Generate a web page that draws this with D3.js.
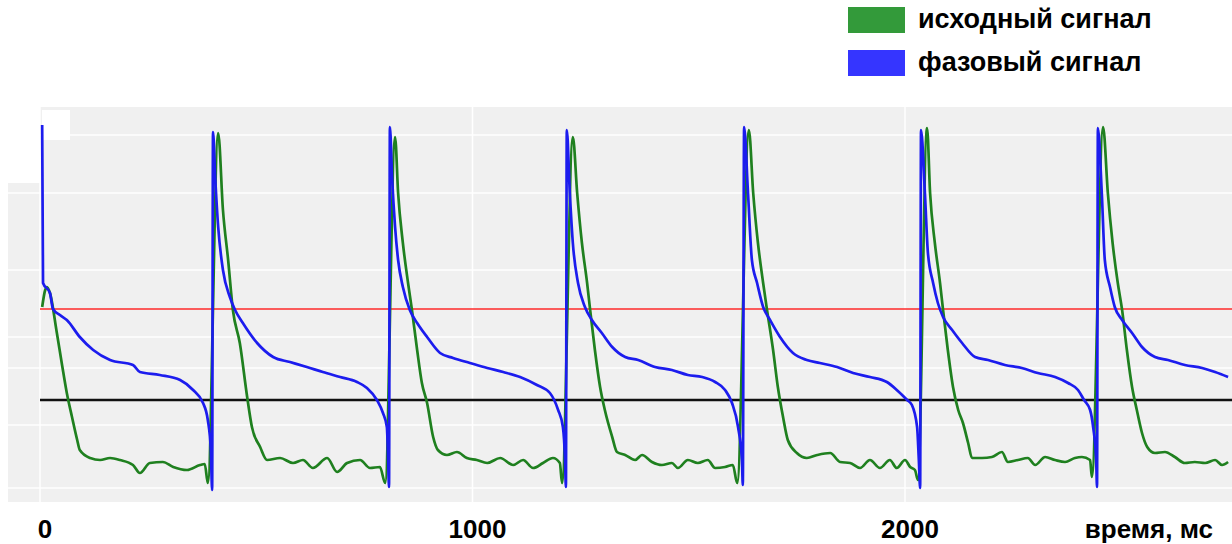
<!DOCTYPE html>
<html>
<head>
<meta charset="utf-8">
<script src="https://cdn.jsdelivr.net/npm/d3@7"></script>
<style>
  body { margin: 0; background: #fff; }
  svg { display: block; font-family: "Liberation Sans", Arial, sans-serif; }
</style>
</head>
<body>
<script>
// time in ms, amplitude in arbitrary units
const rawSignal = [ // исходный сигнал
  [5,193],[12,210],[16,213],[23,207],[39,167],[51,135],[62,107],[74,83],[86,60],[92,50],[116,42],[139,40],[162,42],[185,40],[215,35],[231,27],[254,37],[284,38],[308,33],[340,30],[370,35],[381,36],[388,17],
  [412,367],[423,290],[435,240],[446,190],[462,157],[479,103],[490,73],[509,53],[525,40],[555,42],[585,37],[608,40],[631,32],[664,42],[687,28],[710,37],[740,40],[763,32],[786,33],[798,17],
  [821,363],[828,307],[839,257],[851,217],[860,190],[872,150],[883,117],[895,97],[909,63],[920,50],[941,45],[964,48],[987,42],[1010,40],[1034,37],[1064,42],[1094,35],[1117,40],[1140,32],[1163,37],[1186,42],[1202,37],[1207,17],
  [1232,363],[1242,307],[1253,257],[1265,217],[1272,190],[1283,150],[1295,113],[1306,90],[1323,63],[1334,48],[1353,45],[1376,40],[1392,45],[1415,38],[1438,35],[1461,37],[1475,32],[1498,40],[1521,37],[1544,40],[1561,32],[1584,33],[1602,35],[1612,17],
  [1639,370],[1649,307],[1660,257],[1672,217],[1681,190],[1695,150],[1706,113],[1718,83],[1729,60],[1750,47],[1773,42],[1797,45],[1827,47],[1850,38],[1873,37],[1896,32],[1919,40],[1942,32],[1965,40],[1981,32],[2000,40],[2012,33],[2023,30],[2030,20],
  [2051,372],[2058,307],[2069,257],[2081,217],[2088,190],[2099,150],[2111,113],[2123,90],[2134,77],[2146,57],[2155,42],[2178,42],[2201,43],[2224,48],[2238,38],[2261,40],[2284,42],[2301,35],[2324,43],[2347,40],[2370,38],[2393,42],[2409,43],[2428,40],[2432,23],
  [2458,373],[2469,307],[2480,257],[2492,217],[2502,190],[2513,150],[2525,113],[2536,90],[2548,67],[2560,53],[2578,47],[2601,48],[2624,43],[2647,37],[2670,38],[2694,37],[2717,40],[2733,35],[2747,38]
];

const phaseSignal = [ // фазовый сигнал
  [5,375],[7,217],[23,207],[30,191],[46,185],[62,180],[92,163],[123,150],[162,140],[215,135],[231,128],[277,125],[324,120],[354,110],[377,97],[388,80],[395,50],[398,10],
  [400,368],[405,323],[412,273],[423,230],[439,203],[451,190],[469,177],[502,157],[539,143],[578,138],[617,133],[654,128],[694,123],[733,118],[756,112],[779,100],[793,87],[802,73],[805,40],[807,13],
  [809,373],[814,323],[821,273],[828,240],[839,213],[855,190],[872,177],[895,163],[925,147],[955,142],[994,137],[1034,132],[1071,128],[1110,123],[1149,115],[1179,107],[1198,90],[1209,73],[1214,40],[1216,13],
  [1218,370],[1225,307],[1232,257],[1244,217],[1260,193],[1276,180],[1299,167],[1323,153],[1353,143],[1383,140],[1422,133],[1461,130],[1498,125],[1531,123],[1561,118],[1584,110],[1600,97],[1614,73],[1623,40],[1625,15],
  [1628,373],[1637,307],[1646,240],[1658,217],[1672,193],[1688,180],[1711,163],[1741,147],[1773,140],[1803,137],[1843,133],[1880,127],[1919,123],[1958,118],[1981,110],[2005,100],[2016,95],[2028,73],[2032,40],[2035,12],
  [2037,370],[2046,307],[2053,247],[2065,217],[2076,197],[2088,183],[2109,170],[2132,157],[2162,143],[2192,140],[2231,135],[2270,132],[2307,127],[2347,123],[2377,117],[2400,110],[2414,100],[2428,90],[2435,73],[2442,40],[2444,13],
  [2446,372],[2455,307],[2462,240],[2474,213],[2485,193],[2502,180],[2525,167],[2548,153],[2578,143],[2608,140],[2647,135],[2687,132],[2717,128],[2747,123]
];

const upperLevel = 191;   // red line
const lowerLevel = 100;   // black line
const gridLevels = [365, 307, 230, 163, 132, 75, 12];
const tickValues = [0, 1000, 2000];
const tickLabels = ["0", "1000", "2000"];
const axisTitle = "время, мс";
const legendItems = [
  { label: "исходный сигнал", color: "#339a3a" },
  { label: "фазовый сигнал", color: "#3535ff" }
];

const width = 1232;
const height = 544;
const plot = { left: 8, right: 1232, top: 107, bottom: 502, notchX: 40, notchY: 183 };

const svg = d3.select("body").append("svg")
    .attr("width", width)
    .attr("height", height);

const x = d3.scaleLinear().domain([0, 2000]).range([40, 905]);
const y = d3.scaleLinear().domain([0, 400]).range([500, 100]);

// plot background (with the white notch at the top-left)
svg.append("path")
    .attr("d", `M${plot.notchX},${plot.top}H${plot.right}V${plot.bottom}H${plot.left}V${plot.notchY}H${plot.notchX}Z`)
    .attr("fill", "#f0f0f0");

// grid
svg.append("g")
  .selectAll("line")
  .data(gridLevels)
  .join("line")
    .attr("x1", d => y(d) < plot.notchY ? plot.notchX : plot.left)
    .attr("x2", plot.right)
    .attr("y1", d => y(d))
    .attr("y2", d => y(d))
    .attr("stroke", "#fff")
    .attr("stroke-width", 1.5);

svg.append("g")
  .selectAll("line")
  .data(tickValues)
  .join("line")
    .attr("x1", d => x(d))
    .attr("x2", d => x(d))
    .attr("y1", plot.top)
    .attr("y2", plot.bottom)
    .attr("stroke", "#fff")
    .attr("stroke-width", 1.5);

svg.append("rect")
    .attr("x", 42).attr("y", 110)
    .attr("width", 28).attr("height", 30)
    .attr("fill", "#fff");

// threshold lines
svg.append("line")
    .attr("x1", x(0)).attr("x2", plot.right)
    .attr("y1", y(upperLevel)).attr("y2", y(upperLevel))
    .attr("stroke", "#ff2a2a")
    .attr("stroke-width", 1.5);

svg.append("line")
    .attr("x1", x(0)).attr("x2", plot.right)
    .attr("y1", y(lowerLevel)).attr("y2", y(lowerLevel))
    .attr("stroke", "#111")
    .attr("stroke-width", 2.5);

const line = d3.line()
    .x(d => x(d[0]))
    .y(d => y(d[1]))
    .curve(d3.curveMonotoneX);

svg.append("path")
    .attr("d", line(rawSignal))
    .attr("fill", "none")
    .attr("stroke", "#1f801f")
    .attr("stroke-width", 2.7)
    .attr("stroke-linejoin", "round");

svg.append("path")
    .attr("d", line(phaseSignal))
    .attr("fill", "none")
    .attr("stroke", "#1c1cee")
    .attr("stroke-width", 2.7)
    .attr("stroke-linejoin", "round");

// x tick labels
svg.append("g")
  .selectAll("text")
  .data(tickValues)
  .join("text")
    .attr("x", d => x(d) + 5)
    .attr("y", 538)
    .attr("text-anchor", "middle")
    .attr("font-size", 26)
    .attr("font-weight", "bold")
    .text((d, i) => tickLabels[i]);

svg.append("text")
    .attr("x", 1213)
    .attr("y", 538)
    .attr("text-anchor", "end")
    .attr("font-size", 26)
    .attr("font-weight", "bold")
    .text(axisTitle);

// legend
const legend = svg.append("g")
    .attr("transform", "translate(848,7)");

const item = legend.selectAll("g")
  .data(legendItems)
  .join("g")
    .attr("transform", (d, i) => `translate(0,${i * 43})`);

item.append("rect")
    .attr("width", 57)
    .attr("height", 26)
    .attr("fill", d => d.color);

item.append("text")
    .attr("x", 70)
    .attr("y", 21)
    .attr("font-size", 27)
    .attr("font-weight", "bold")
    .text(d => d.label);
</script>
</body>
</html>
